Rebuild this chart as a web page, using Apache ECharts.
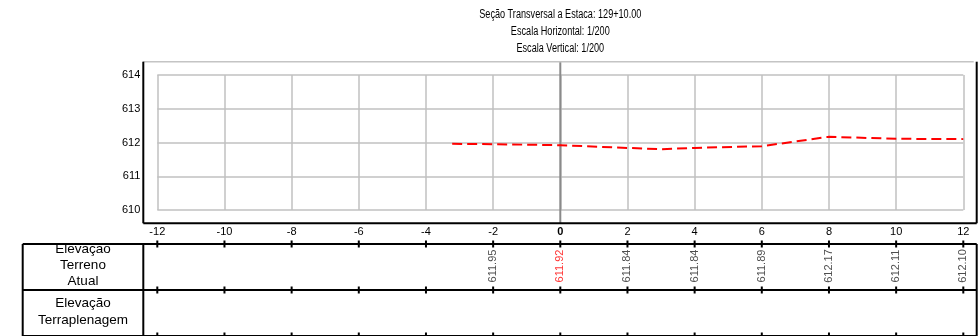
<!DOCTYPE html>
<html>
<head>
<meta charset="utf-8">
<script src="https://cdn.jsdelivr.net/npm/echarts@6/dist/echarts.min.js"></script>
<style>
html,body{margin:0;padding:0;background:#fff;}
#chart{width:979px;height:336px;}
</style>
</head>
<body>
<div id="chart"></div>
<script>
// Cross-section at station 129+10.00
const titleLines = ['Seção Transversal a Estaca: 129+10.00', 'Escala Horizontal: 1/200', 'Escala Vertical: 1/200'];

// Existing ground profile (offset in m, elevation in m)
const groundOffsets = [-3.22, -2, 0, 2, 3, 4, 6, 8, 10, 12];
const groundElev    = [611.96, 611.95, 611.92, 611.84, 611.80, 611.84, 611.89, 612.17, 612.11, 612.10];

// Tabulated stations below the section
const stationOffsets = [-2, 0, 2, 4, 6, 8, 10, 12];
const stationElev    = [611.95, 611.92, 611.84, 611.84, 611.89, 612.17, 612.11, 612.10];

// Axis ticks
const offsetTicks = [-12, -10, -8, -6, -4, -2, 0, 2, 4, 6, 8, 10, 12];
const elevTicks   = [610, 611, 612, 613, 614];

const rowLabels = ['Elevação\nTerreno\nAtual', 'Elevação\nTerraplenagem'];

const FONT = '"Liberation Sans", Arial, sans-serif';

const chart = echarts.init(document.getElementById('chart'), null, {renderer: 'canvas'});

const gridLeft = 157.3, gridRight = 15.7;
const gridColor = '#c0c0c0';

// tick marks on the table's row boundaries (row index 0..2)
const tableTickData = [];
offsetTicks.forEach(x => { [0, 1, 2].forEach(r => tableTickData.push([x, r])); });

const option = {
  animation: false,
  backgroundColor: '#ffffff',
  grid: [
    {left: gridLeft, right: gridRight, top: 75, height: 135},
    {left: gridLeft, right: gridRight, top: 244, height: 93}
  ],
  xAxis: [
    {
      type: 'value', gridIndex: 0,
      min: offsetTicks[0], max: offsetTicks[offsetTicks.length - 1], interval: 2,
      axisLine: {show: false}, axisTick: {show: false},
      splitLine: {show: true, lineStyle: {color: gridColor, width: 1.5}},
      axisLabel: {
        margin: 16, fontSize: 11, fontFamily: FONT, color: '#000',
        formatter: v => v === 0 ? '{b|0}' : String(v),
        rich: {b: {fontWeight: 'bold', fontSize: 11, fontFamily: FONT, color: '#000'}}
      }
    },
    {
      type: 'value', gridIndex: 1,
      min: offsetTicks[0], max: offsetTicks[offsetTicks.length - 1], interval: 2,
      show: false
    }
  ],
  yAxis: [
    {
      type: 'value', gridIndex: 0,
      min: elevTicks[0], max: elevTicks[elevTicks.length - 1], interval: 1,
      axisLine: {show: false}, axisTick: {show: false},
      splitLine: {show: true, lineStyle: {color: gridColor, width: 1.5}},
      axisLabel: {margin: 17, fontSize: 11, fontFamily: FONT, color: '#000'}
    },
    {
      type: 'value', gridIndex: 1, min: 0, max: 2, inverse: true, show: false
    }
  ],
  series: [
    {
      type: 'line', xAxisIndex: 0, yAxisIndex: 0,
      data: groundOffsets.map((x, i) => [x, groundElev[i]]),
      showSymbol: false, symbol: 'none', smooth: false,
      lineStyle: {color: '#ff0000', width: 2, type: [10, 5]},
      z: 5
    },
    {
      type: 'scatter', xAxisIndex: 1, yAxisIndex: 1,
      symbolSize: 0,
      data: stationOffsets.map((x, i) => ({
        value: [x, 0.5, stationElev[i]],
        label: {color: x === 0 ? '#ff0000' : '#222'}
      })),
      label: {
        show: true, position: 'inside', rotate: 90, offset: [1, 0],
        fontSize: 11, fontFamily: FONT,
        formatter: p => p.value[2].toFixed(2)
      },
      silent: true
    },
    {
      type: 'custom', xAxisIndex: 1, yAxisIndex: 1,
      data: tableTickData,
      renderItem: (params, api) => {
        const p = api.coord([api.value(0), api.value(1)]);
        return {
          type: 'line',
          shape: {x1: p[0], y1: p[1] - 3.5, x2: p[0], y2: p[1] + 3.5},
          style: {stroke: '#000', lineWidth: 2}
        };
      },
      silent: true, z: 6
    }
  ]
};

chart.setOption(option);

// frame, zero line, table outline, row captions and title placed from the axis scales
const px = (x, y, g) => chart.convertToPixel({gridIndex: g}, [x, y]);
const zero = px(0, elevTicks[0], 0)[0];
const leftEdge = px(offsetTicks[0], 0, 0)[0] - 14;
const rightEdge = px(offsetTicks[offsetTicks.length - 1], 0, 0)[0] + 13.4;
const frameTop = 61.7, frameBottom = 223.3;
const rowTop = px(0, 0, 1)[1], rowMid = px(0, 1, 1)[1], rowBot = px(0, 2, 1)[1];
const tableLeft = 22.7;

const blk = {stroke: '#000', lineWidth: 2};
const ln = (x1, y1, x2, y2, style, z) => ({type: 'line', shape: {x1, y1, x2, y2}, style, z: z || 10, silent: true});

chart.setOption({
  graphic: [
    // chart frame
    ln(leftEdge, frameTop, rightEdge - 3, frameTop, {stroke: '#c4c4c4', lineWidth: 1.5}),
    ln(leftEdge, frameTop, leftEdge, frameBottom, blk),
    ln(leftEdge, frameBottom, rightEdge, frameBottom, blk),
    ln(rightEdge, frameTop, rightEdge, frameBottom, blk),
    // centerline
    ln(zero, frameTop, zero, frameBottom, {stroke: '#8a8a8a', lineWidth: 2}, 1),
    // table outline
    ln(tableLeft, rowTop, rightEdge, rowTop, blk),
    ln(tableLeft, rowMid, rightEdge, rowMid, blk),
    ln(tableLeft, rowBot, rightEdge, rowBot, blk),
    ln(tableLeft, rowTop, tableLeft, rowBot, blk),
    ln(leftEdge, rowTop, leftEdge, rowBot, blk),
    ln(rightEdge, rowTop, rightEdge, rowBot, blk),
    // row captions
    {
      type: 'text', x: (tableLeft + leftEdge) / 2, y: (rowTop + rowMid) / 2 - 1.5, silent: true,
      style: {text: rowLabels[0], font: '13.5px ' + FONT, fill: '#000', align: 'center', verticalAlign: 'middle', lineHeight: 16}
    },
    {
      type: 'text', x: (tableLeft + leftEdge) / 2, y: (rowMid + rowBot) / 2 - 1, silent: true,
      style: {text: rowLabels[1], font: '13.5px ' + FONT, fill: '#000', align: 'center', verticalAlign: 'middle', lineHeight: 17}
    },
    // title, set in a condensed face
    {
      type: 'text', x: zero, y: 32, scaleX: 0.76, silent: true,
      style: {text: titleLines.join('\n'), font: '12px ' + FONT, fill: '#000', align: 'center', verticalAlign: 'middle', lineHeight: 17}
    }
  ]
});
</script>
</body>
</html>
